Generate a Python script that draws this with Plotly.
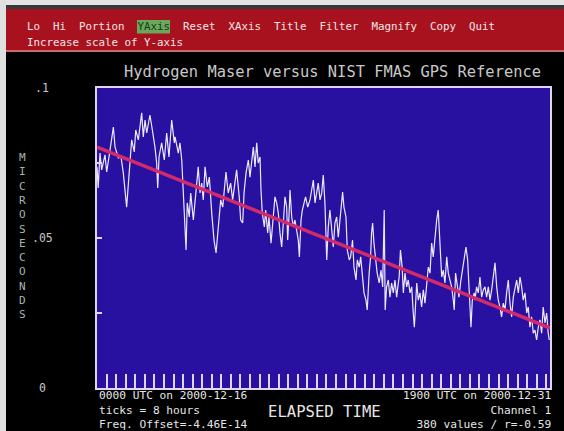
import plotly.graph_objects as go

# ---------------- data ----------------
# elapsed hours since 0000 UTC 2000-12-16, and time difference in microseconds
hours_a = [0.0, 1.0, 2.5, 3.9, 6.7, 8.1, 10.9, 13.7, 15.1, 17.9, 20.1, 22.0, 24.8, 26.2, 27.6, 29.0, 31.2, 32.4,
           34.6, 36.0, 37.4, 38.7, 40.2, 41.6, 44.3, 46.3, 48.5, 49.9, 50.8, 51.9, 54.1, 56.3, 58.3, 60.2, 62.5, 64.7]
values_a = [.0737, .0667, .0783, .0727, .0777, .0720, .0793, .0870, .0803, .0767, .0770, .0717, .0603, .0670, .0737, .0827, .0787, .0860,
            .0827, .0867, .0917, .0837, .0893, .0850, .0910, .0860, .0803, .0750, .0667, .0770, .0817, .0760, .0850, .0770, .0893, .0817]

hours_b = [65.3, 68.0, 69.4, 70.9, 72.2, 73.6, 74.5, 75.5, 77.2, 78.4, 80.6, 82.0, 83.4, 84.7, 86.2, 87.6, 88.9, 90.4, 92.3, 94.0,
           96.0, 97.9, 99.6, 101.5, 103.5, 105.2, 106.5, 107.9, 109.8, 111.8, 113.5, 115.4, 116.8, 119.0, 120.2, 121.9, 123.0, 124.7, 126.6]
values_b = [.0837, .0783, .0817, .0760, .0670, .0537, .0460, .0617, .0570, .0650, .0560, .0617, .0693, .0737, .0650, .0683, .0627, .0737, .0670, .0703,
            .0583, .0493, .0450, .0550, .0627, .0603, .0670, .0720, .0650, .0683, .0627, .0693, .0727, .0637, .0560, .0550, .0650, .0717, .0760]

hours_c = [128.0, 129.4, 130.8, 132.2, 133.6, 134.9, 136.4, 137.2, 138.3, 140.0, 141.1, 142.8, 143.9, 145.6, 147.5, 148.9, 150.3, 151.7, 153.1, 154.5, 155.9, 157.3,
           158.7, 159.5, 160.6, 161.5, 162.9, 164.2, 165.6, 167.1, 168.4, 169.3, 170.7, 171.8, 173.4, 174.5, 176.3, 178.2, 179.6, 181.0, 182.4, 183.8, 185.1, 186.6]
values_c = [.0703, .0760, .0803, .0737, .0817, .0750, .0770, .0660, .0583, .0537, .0593, .0517, .0570, .0483, .0560, .0637, .0617, .0583, .0517, .0470, .0550, .0637,
            .0603, .0493, .0570, .0660, .0570, .0537, .0560, .0517, .0493, .0437, .0560, .0593, .0627, .0637, .0603, .0627, .0660, .0693, .0617, .0650, .0683, .0627]

hours_d = [188.0, 189.3, 190.7, 192.2, 193.5, 194.9, 196.3, 197.7, 199.1, 200.5, 201.9, 203.3, 204.7, 205.5, 206.6, 208.3, 209.4, 211.1, 212.2, 213.8, 215.0, 216.7, 217.8, 219.4, 220.6, 222.3,
           223.4, 225.0, 226.1, 227.7, 228.9, 229.7, 230.6, 231.7, 233.4, 234.4, 236.1, 237.6, 239.0, 240.3, 241.1, 242.3, 243.7, 245.1, 246.5, 247.9, 249.3, 250.7, 252.1, 252.8, 253.9]
values_d = [.0650, .0710, .0617, .0427, .0537, .0593, .0537, .0470, .0550, .0570, .0503, .0560, .0637, .0653, .0603, .0570, .0460, .0427, .0437, .0493, .0403, .0360, .0427, .0403, .0437, .0360,
            .0317, .0293, .0260, .0383, .0437, .0517, .0550, .0483, .0403, .0383, .0350, .0393, .0337, .0593, .0260, .0337, .0360, .0303, .0350, .0317, .0360, .0303, .0350, .0370, .0460]

hours_e = [255.3, 256.3, 257.7, 259.1, 260.4, 261.9, 263.3, 264.6, 265.5, 266.6, 267.5, 268.8, 270.2, 271.6, 273.0, 274.4, 275.8, 277.2, 278.6, 280.0, 281.3, 282.8, 284.2, 285.5,
           286.3, 287.5, 288.4, 289.7, 291.1, 292.6, 293.9, 295.3, 296.7, 298.1, 298.9, 300.0, 301.4, 302.8, 304.5, 305.9, 307.2, 308.7, 310.1, 311.2, 312.9, 314.0, 315.6]
values_e = [.0403, .0317, .0383, .0337, .0360, .0317, .0337, .0250, .0203, .0283, .0350, .0293, .0317, .0270, .0327, .0283, .0337, .0403, .0383, .0483, .0437, .0517, .0560, .0593,
            .0537, .0460, .0370, .0393, .0350, .0437, .0383, .0360, .0337, .0293, .0260, .0383, .0337, .0303, .0360, .0403, .0437, .0470, .0427, .0337, .0203, .0293, .0317]

hours_f = [316.2, 317.6, 319.0, 320.4, 321.8, 323.2, 324.6, 326.0, 327.4, 328.8, 330.2, 331.5, 333.0, 334.4, 335.7, 337.1, 338.5, 339.9, 341.3, 342.7, 344.1, 345.5, 346.9,
           348.3, 349.7, 351.1, 352.5, 353.9, 355.3, 356.6, 358.1, 359.5, 360.8, 362.2, 363.6, 365.0, 366.4, 367.8, 369.2, 370.6, 372.0, 373.3, 374.8, 376.2, 377.5, 378.4]
values_f = [.0293, .0337, .0317, .0370, .0303, .0327, .0337, .0303, .0337, .0293, .0327, .0370, .0417, .0337, .0293, .0270, .0237, .0283, .0260, .0317, .0360, .0283, .0237,
            .0303, .0337, .0360, .0317, .0370, .0337, .0293, .0317, .0250, .0270, .0203, .0237, .0183, .0193, .0160, .0203, .0227, .0183, .0270, .0217, .0250, .0183, .0160]

fit_hours = [0.0, 379.0]
fit_values = [0.0803, 0.0200]

y_tick_values = [0.1, 0.05, 0.0]
y_tick_labels = [".1", ".05", "0"]

menu_line = "Lo  Hi  Portion  <span style='color:#183818'>YAxis</span>  Reset  XAxis  Title  Filter  Magnify  Copy  Quit"
menu_hint = "Increase scale of Y-axis"
title_text = "Hydrogen Maser versus NIST FMAS GPS Reference"
y_title = "MICROSECONDS"
left_info = ["0000 UTC on 2000-12-16", "ticks = 8 hours", "Freq. Offset=-4.46E-14"]
right_info = ["1900 UTC on 2000-12-31", "Channel 1", "380 values / r=-0.59"]
x_title = "ELAPSED TIME"

hours = hours_a + hours_b + hours_c + hours_d + hours_e + hours_f
values = values_a + values_b + values_c + values_d + values_e + values_f

# ---------------- layout helpers (pixel positions) ----------------
W, H = 564, 431
PL, PR, PT, PB = 97, 550, 88, 388


def px(x):
    return (x - PL) / (PR - PL)


def py(y):
    return (PB - y) / (PB - PT)


MONO = "DejaVu Sans Mono"
BORDER = "#e2d4f2"

fig = go.Figure()
fig.add_trace(go.Scatter(x=hours, y=values, mode="lines",
                         line=dict(color="#eee8ff", width=1.2), hoverinfo="skip"))
fig.add_trace(go.Scatter(x=fit_hours, y=fit_values, mode="lines",
                         line=dict(color="#d42a6a", width=3.5), hoverinfo="skip"))

shapes = [
    dict(type="rect", xref="paper", yref="paper", x0=px(0), x1=px(W), y0=py(0), y1=py(5),
         fillcolor="#e4e4e4", line_width=0, layer="above"),
    dict(type="rect", xref="paper", yref="paper", x0=px(0), x1=px(W), y0=py(5), y1=py(9),
         fillcolor="#3a3a3a", line_width=0, layer="above"),
    dict(type="rect", xref="paper", yref="paper", x0=px(0), x1=px(W), y0=py(9), y1=py(52),
         fillcolor="#a8121f", line_width=0, layer="above"),
    dict(type="line", xref="paper", yref="paper", x0=px(0), x1=px(W), y0=py(51), y1=py(51),
         line=dict(color="#d88890", width=1.5), layer="above"),
    dict(type="rect", xref="paper", yref="paper", x0=px(137), x1=px(170), y0=py(20), y1=py(33.5),
         fillcolor="#6aa85c", line_width=0, layer="above"),
    dict(type="rect", xref="paper", yref="paper", x0=px(0), x1=px(6), y0=py(0), y1=py(H),
         fillcolor="#e0e0e0", line_width=0, layer="above"),
]

annotations = []


def add_text(text, x, y, size, color, xanchor="left", align="left", family=MONO):
    annotations.append(dict(text=text, xref="paper", yref="paper", x=px(x), y=py(y),
                            xanchor=xanchor, yanchor="middle", align=align, showarrow=False,
                            borderpad=0,
                            font=dict(family=family, size=size, color=color)))


add_text(menu_line, 26, 27, 10.8, "#f2e6e6")
add_text(menu_hint, 26, 42.5, 10.8, "#f2e6e6")
add_text(title_text, 332.5, 72, 15.4, "#c8c8c8", xanchor="center", align="center")
add_text("<br>".join(list(y_title)), 22, 236, 11, "#a6b4b4", xanchor="center", align="center")
add_text("<br>".join(left_info), 98, 409.5, 11.2, "#e6e6e6")
add_text("<br>".join(right_info), 552, 409.5, 11.2, "#e6e6e6", xanchor="right", align="right")
add_text(x_title, 324.5, 411.5, 15.6, "#e6e6e6", xanchor="center", align="center")

for v, lab in zip(y_tick_values, y_tick_labels):
    annotations.append(dict(text=lab, xref="paper", yref="y", x=px(42), y=v,
                            xanchor="center", yanchor="middle", showarrow=False,
                            font=dict(family=MONO, size=11.5, color="#c8c8c8")))

fig.update_layout(
    width=W, height=H,
    margin=dict(l=PL, r=W - PR, t=PT, b=H - PB, pad=0),
    paper_bgcolor="#000000", plot_bgcolor="#2810a0",
    showlegend=False,
    shapes=shapes, annotations=annotations,
    xaxis=dict(range=[0, 379], showgrid=False, zeroline=False, showline=True, mirror=True,
               linecolor=BORDER, linewidth=2, ticks="inside", ticklen=14, tickwidth=1.5,
               tickcolor=BORDER, tick0=0, dtick=8, showticklabels=False, fixedrange=True),
    yaxis=dict(range=[0, 0.1], showgrid=False, zeroline=False, showline=True, mirror=True,
               linecolor=BORDER, linewidth=2, ticks="inside", ticklen=5, tickwidth=1.5,
               tickcolor=BORDER, tickvals=[0.025, 0.05, 0.075], showticklabels=False, fixedrange=True),
)

fig.write_html("out.html", config={"displayModeBar": False},
               post_script="document.body.style.margin='0';document.body.style.overflow='hidden';")
